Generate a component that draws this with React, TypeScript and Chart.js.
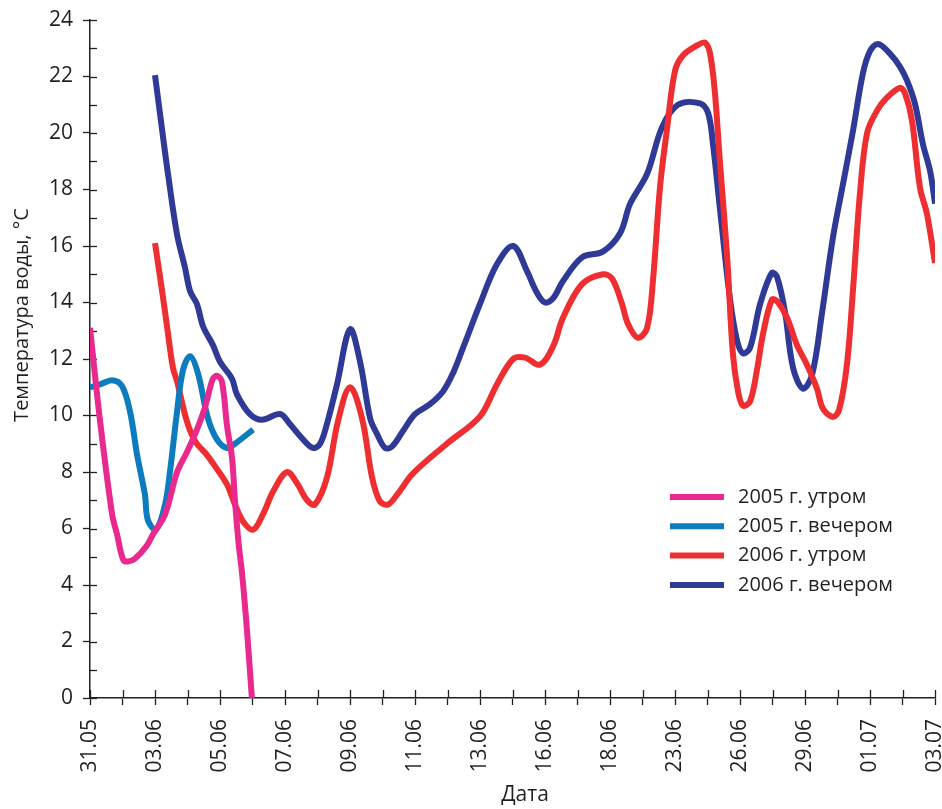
import { useEffect, useRef } from 'react';
import { Chart, registerables } from 'chart.js';

Chart.register(...registerables);

// Tick labels (every second tick position along the x axis carries a date)
const dateLabels = ['31.05', '03.06', '05.06', '07.06', '09.06', '11.06', '13.06', '16.06', '18.06', '23.06', '26.06', '29.06', '01.07', '03.07'];
const tickCount = 27;

const seriesNames = ['2005 г. утром', '2005 г. вечером', '2006 г. утром', '2006 г. вечером'];
const seriesColors = ['#E9298D', '#0C7CBF', '#EE2E30', '#2F3A96'];

// 2005 morning
const pinkX = [0, 0.31, 0.68, 0.83, 1.02, 1.17, 1.38, 1.75, 1.94, 2.31, 2.68, 2.98, 3.29, 3.54, 3.78, 3.91, 4.06, 4.22, 4.37, 4.46, 4.57, 4.68, 4.83, 4.98];
const pinkY = [13.1, 9.8, 6.5, 5.8, 4.9, 4.83, 4.93, 5.4, 5.8, 6.5, 8.0, 8.7, 9.5, 10.3, 11.3, 11.4, 11.2, 9.6, 8.5, 7.0, 5.5, 4.4, 2.4, 0];

// 2005 evening
const blueX = [0, 0.31, 0.68, 0.98, 1.23, 1.45, 1.69, 1.78, 2.03, 2.31, 2.46, 2.68, 2.86, 3.08, 3.32, 3.63, 3.91, 4.22, 4.46, 5.02];
const blueY = [11.0, 11.1, 11.25, 11.05, 10.15, 8.6, 7.2, 6.3, 5.96, 6.85, 8.0, 10.15, 11.6, 12.1, 11.5, 9.9, 9.15, 8.85, 9.0, 9.5];

// 2006 morning
const redX = [2.0, 2.22, 2.4, 2.55, 2.68, 2.98, 3.23, 3.6, 3.91, 4.22, 4.46, 4.71, 5.02, 5.32, 5.63, 6.06, 6.37, 6.68, 6.92, 7.29, 7.63, 8.0, 8.37, 8.68, 8.92, 9.17, 9.45, 9.94, 10.98, 12.0, 12.52, 13.02, 13.38, 13.85, 14.25, 14.55, 15.14, 15.78, 16.06, 16.37, 16.55, 16.86, 17.14, 17.32, 17.54, 17.75, 18.0, 18.25, 18.68, 18.92, 19.08, 19.23, 19.38, 19.6, 19.78, 19.94, 20.09, 20.31, 20.52, 20.71, 20.98, 21.14, 21.45, 21.75, 22.06, 22.37, 22.55, 22.86, 23.05, 23.29, 23.48, 23.69, 23.91, 24.22, 24.52, 24.92, 25.08, 25.29, 25.54, 25.75, 26.0];
const redY = [16.1, 14.4, 12.9, 11.7, 11.2, 9.8, 9.1, 8.6, 8.1, 7.55, 6.85, 6.25, 5.96, 6.5, 7.3, 8.0, 7.6, 7.0, 6.85, 7.8, 9.8, 11.0, 9.9, 7.8, 6.96, 6.85, 7.2, 7.95, 9.0, 9.97, 11.1, 12.0, 12.05, 11.8, 12.45, 13.45, 14.65, 15.0, 14.85, 13.95, 13.25, 12.75, 13.1, 14.75, 18.1, 20.1, 22.2, 22.75, 23.1, 23.2, 22.8, 21.4, 19.0, 15.7, 12.2, 10.85, 10.35, 10.5, 11.6, 12.9, 14.1, 14.05, 13.45, 12.5, 11.8, 10.95, 10.25, 9.95, 10.2, 11.8, 14.5, 17.85, 20.0, 20.8, 21.25, 21.6, 21.4, 20.45, 18.05, 17.15, 15.4];

// 2006 evening
const navyX = [2.0, 2.22, 2.4, 2.68, 2.92, 3.08, 3.29, 3.48, 3.78, 4.0, 4.37, 4.52, 4.92, 5.29, 5.85, 6.15, 6.52, 6.86, 7.08, 7.29, 7.6, 8.0, 8.31, 8.62, 8.83, 9.08, 9.29, 9.63, 10.0, 10.46, 10.86, 11.17, 11.48, 12.0, 12.52, 13.02, 13.45, 13.75, 14.0, 14.25, 14.55, 15.14, 15.78, 16.31, 16.62, 17.14, 17.6, 18.09, 18.77, 19.02, 19.17, 19.38, 19.69, 19.91, 20.09, 20.31, 20.62, 20.98, 21.14, 21.38, 21.63, 21.94, 22.22, 22.52, 22.86, 23.17, 23.48, 23.78, 24.0, 24.25, 24.62, 24.92, 25.14, 25.38, 25.63, 25.85, 26.0];
const navyY = [22.05, 20.1, 18.55, 16.4, 15.25, 14.4, 13.95, 13.15, 12.5, 11.9, 11.3, 10.75, 10.05, 9.85, 10.05, 9.7, 9.2, 8.85, 9.0, 9.7, 11.1, 13.05, 11.9, 9.9, 9.35, 8.85, 8.9, 9.45, 10.05, 10.4, 10.85, 11.5, 12.4, 13.95, 15.35, 16.0, 15.1, 14.35, 14.0, 14.15, 14.75, 15.6, 15.8, 16.45, 17.5, 18.55, 20.2, 21.0, 21.05, 20.7, 19.6, 17.35, 14.15, 12.65, 12.2, 12.4, 13.95, 15.05, 14.9, 13.7, 11.7, 10.95, 11.45, 13.6, 16.3, 18.2, 20.1, 22.1, 22.9, 23.15, 22.8, 22.35, 21.85, 21.05, 19.6, 18.65, 17.5];

const yMin = 0;
const yMax = 24;
const yMajorStep = 2;

const xTitle = 'Дата';
const yTitle = 'Температура воды, °С';

const textColor = '#231F20';
const axisColor = '#231F20';
const fontFamily = '"Open Sans", "Noto Sans", sans-serif';

const toPoints = (xs: number[], ys: number[]) => xs.map((x, i) => ({ x, y: ys[i] }));

const decorPlugin = {
  id: 'decor',
  beforeDatasetsDraw(chart: any) {
    const { ctx, chartArea, scales } = chart;
    const x = scales.x;
    const y = scales.y;
    ctx.save();
    ctx.strokeStyle = axisColor;
    ctx.lineWidth = 1.3;
    for (let v = yMin; v <= yMax; v++) {
      const py = Math.round(y.getPixelForValue(v)) + 0.5;
      ctx.beginPath();
      ctx.moveTo(chartArea.left, py);
      ctx.lineTo(chartArea.left + 7, py);
      ctx.stroke();
    }
    for (let u = 0; u < tickCount; u++) {
      const px = Math.round(x.getPixelForValue(u)) + 0.5;
      ctx.beginPath();
      ctx.moveTo(px, chartArea.bottom);
      ctx.lineTo(px, chartArea.bottom - 8);
      ctx.stroke();
    }
    ctx.restore();
  },
  afterDraw(chart: any) {
    const { ctx } = chart;
    ctx.save();
    ctx.fillStyle = textColor;
    // axis titles
    ctx.font = `21px ${fontFamily}`;
    ctx.textAlign = 'center';
    ctx.textBaseline = 'middle';
    ctx.fillText(xTitle, 525, 795);
    ctx.save();
    ctx.translate(22, 315);
    ctx.rotate(-Math.PI / 2);
    ctx.font = `20px ${fontFamily}`;
    ctx.fillText(yTitle, 0, 0);
    ctx.restore();
    // legend
    chart.data.datasets.forEach((ds: any, i: number) => {
      const ly = 497 + i * 29.3;
      ctx.strokeStyle = ds.borderColor;
      ctx.lineWidth = 6;
      ctx.lineCap = 'butt';
      ctx.beginPath();
      ctx.moveTo(670, ly);
      ctx.lineTo(724, ly);
      ctx.stroke();
      ctx.font = `20px ${fontFamily}`;
      ctx.textAlign = 'left';
      ctx.textBaseline = 'middle';
      ctx.fillStyle = textColor;
      ctx.fillText(ds.label, 738, ly);
    });
    ctx.restore();
  },
};

export default function App() {
  const canvasRef = useRef<HTMLCanvasElement | null>(null);

  useEffect(() => {
    document.body.style.margin = '0';
    const canvas = canvasRef.current;
    if (!canvas) return;
    const xsList = [pinkX, blueX, redX, navyX];
    const ysList = [pinkY, blueY, redY, navyY];
    const chart = new Chart(canvas, {
      type: 'line',
      data: {
        datasets: seriesNames.map((name, i) => ({
          label: name,
          data: toPoints(xsList[i], ysList[i]),
          borderColor: seriesColors[i],
          backgroundColor: seriesColors[i],
          borderWidth: 6,
          pointRadius: 0,
          pointHoverRadius: 0,
          fill: false,
          tension: 0.35,
          borderCapStyle: 'butt',
          borderJoinStyle: 'round',
        })),
      },
      options: {
        animation: false,
        responsive: false,
        maintainAspectRatio: false,
        layout: { padding: { top: 20, right: 7, left: 0, bottom: 0 } },
        plugins: {
          legend: { display: false },
          tooltip: { enabled: false },
        },
        scales: {
          x: {
            type: 'linear',
            min: 0,
            max: tickCount - 1,
            afterBuildTicks: (s: any) => {
              s.ticks = Array.from({ length: tickCount }, (_, i) => ({ value: i }));
            },
            ticks: {
              autoSkip: false,
              minRotation: 90,
              maxRotation: 90,
              padding: 14,
              color: textColor,
              font: { family: fontFamily, size: 21 },
              callback: (v: any) => (Number(v) % 2 === 0 ? dateLabels[Number(v) / 2] : ''),
            },
            grid: {
              drawOnChartArea: false,
              drawTicks: true,
              tickLength: 7,
              tickColor: axisColor,
              tickWidth: 1.3,
              color: axisColor,
            },
            border: { display: true, color: axisColor, width: 1.5 },
            afterFit: (s: any) => {
              s.height = 111;
              s.paddingLeft = 0;
              s.paddingRight = 0;
            },
          },
          y: {
            type: 'linear',
            min: yMin,
            max: yMax,
            ticks: {
              stepSize: yMajorStep,
              padding: 10,
              color: textColor,
              font: { family: fontFamily, size: 21 },
            },
            grid: {
              drawOnChartArea: false,
              drawTicks: true,
              tickLength: 7,
              tickColor: axisColor,
              tickWidth: 1.3,
              color: axisColor,
            },
            border: { display: true, color: axisColor, width: 1.5 },
            afterFit: (s: any) => {
              s.width = 90;
              s.paddingTop = 0;
              s.paddingBottom = 0;
            },
          },
        },
      },
      plugins: [decorPlugin],
    } as any);
    return () => chart.destroy();
  }, []);

  return (
    <div style={{ width: 942, height: 809, position: 'relative', background: '#fff' }}>
      <canvas ref={canvasRef} width={942} height={809} style={{ display: 'block' }} />
    </div>
  );
}
